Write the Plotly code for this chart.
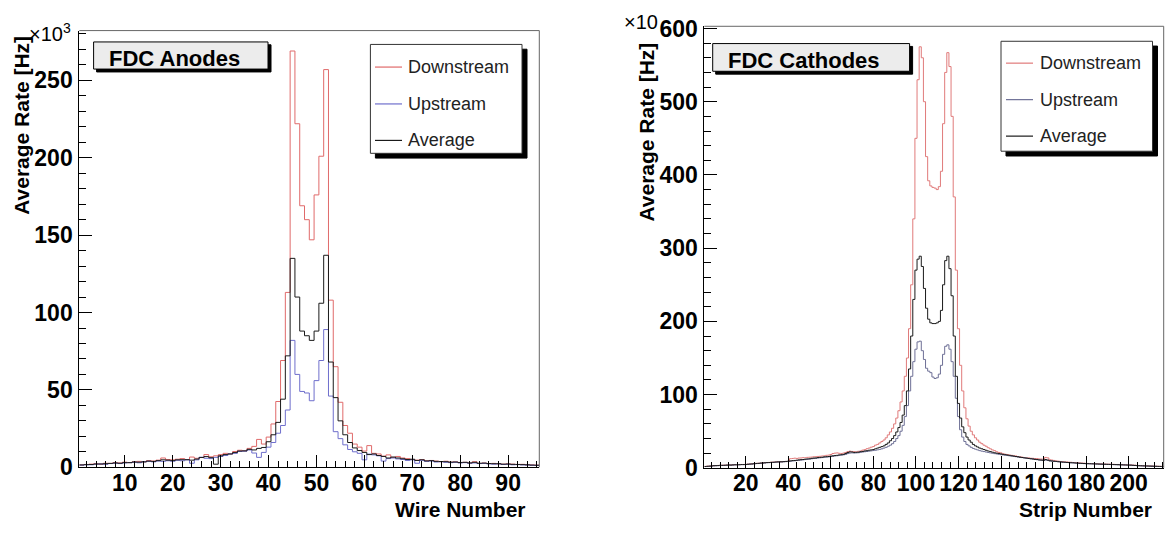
import plotly.graph_objects as go

W, H = 1166, 535

# ---------------- data: FDC anodes (wire 1..96), units of 1e3 Hz ----------------
wire_downstream = [1.5,1.8,2.0,2.3,2.0,2.6,2.5,3.0,2.8,3.3,
 3.0,3.6,3.8,3.5,4.3,4.0,4.6,6.0,5.0,4.8,
 5.2,5.6,5.0,6.6,5.8,6.3,8.2,6.8,7.4,8.2,
 9.0,8.6,10.2,11.0,10.6,12.2,13.5,18.0,15.0,19.5,
 28.0,42.5,69.0,113.0,269.0,222.0,169.0,160.0,147.0,176.0,
 201.0,257.0,108.0,65.0,42.0,27.0,22.0,15.0,13.0,10.5,
 14.0,9.0,8.6,7.2,8.0,6.4,7.0,6.0,5.6,5.0,
 4.6,5.0,4.2,4.4,4.0,3.6,3.9,3.3,3.5,3.0,
 3.2,2.8,3.6,2.5,2.7,2.4,2.5,2.2,2.0,2.2,
 2.0,1.8,1.9,1.6,1.5,1.4]
wire_upstream = [1.4,1.6,1.6,2.0,2.2,1.9,2.4,2.6,2.4,2.8,
 3.0,3.2,2.9,3.5,3.8,3.5,4.0,3.8,4.2,3.9,
 4.5,4.2,4.8,2.6,4.8,6.5,5.8,5.6,6.4,7.0,
 7.6,8.6,9.0,10.2,10.4,11.2,9.2,6.4,9.6,13.0,
 16.0,22.0,27.0,37.0,82.0,60.0,49.0,48.0,43.0,56.0,
 69.0,89.0,46.0,23.0,18.5,14.5,11.5,10.0,9.0,4.8,
 8.5,8.0,7.4,4.0,5.6,6.0,5.4,5.0,4.4,4.8,
 2.6,4.5,3.8,4.0,3.4,3.6,3.2,3.0,3.2,2.8,
 3.0,2.6,2.8,2.4,2.5,2.2,2.0,2.2,1.8,1.9,
 1.6,1.7,1.5,1.4,1.3,1.2]
wire_average = [1.5,1.7,1.8,2.1,2.1,2.3,2.5,2.8,2.6,3.0,
 3.0,3.4,3.3,3.5,4.0,3.8,4.3,4.8,4.6,4.3,
 4.8,4.9,4.9,4.6,5.3,6.3,6.9,6.2,2.0,7.4,
 8.2,8.6,9.5,10.5,10.6,11.6,11.2,12.2,12.8,16.5,
 21.0,29.0,44.0,72.0,135.0,110.0,88.0,85.0,82.0,88.0,
 106.0,137.0,68.0,45.0,30.0,21.0,16.0,12.5,10.8,9.6,
 8.2,8.6,7.6,7.0,6.0,6.6,6.0,5.5,5.0,5.2,
 4.4,4.8,4.1,4.3,3.8,3.7,3.6,3.3,3.4,3.1,
 3.2,2.8,3.2,2.6,2.7,2.4,2.3,2.3,2.0,2.1,
 1.9,1.8,1.7,1.6,1.4,1.3]

# ---------------- data: FDC cathodes (strip 1..216), units of 10 Hz ----------------
strip_downstream = [2.0,2.3,2.4,2.9,3.0,3.1,3.3,3.3,3.6,3.7,
 3.8,4.0,3.9,4.2,4.3,4.3,4.5,4.6,4.6,4.8,
 5.1,5.2,5.6,5.8,6.1,6.3,6.5,6.9,7.0,7.3,
 7.4,7.7,7.8,8.0,8.3,8.2,8.5,8.6,8.6,8.9,
 12.5,12.8,13.2,12.9,13.4,13.5,13.9,13.8,14.3,14.5,
 14.7,15.1,15.2,15.6,15.8,16.2,16.4,17.1,17.4,18.2,
 19.6,20.1,20.4,19.8,19.6,20.2,21.0,22.2,22.8,22.4,
 22.1,21.8,22.6,23.0,24.2,24.8,26.1,27.0,28.2,29.1,
 31,32,34,36,38,41,45,49,54,60,
 68,78,90,105,125,150,190,250,340,450,
 530,575,560,500,425,392,385,383,382,380,
 384,405,470,540,567,548,480,370,270,190,
 140,105,82,67,57,50,45,41,38,35,
 33,31,29.5,27.5,26,24.5,23.5,22,21,20.4,
 19.2,18.6,18.2,17.4,17.1,16.4,16.2,15.4,15.1,14.6,
 14.1,13.7,13.6,13.1,13.0,12.7,12.6,12.1,12.0,11.7,
 14.2,13.6,11.0,10.6,10.1,9.4,9.1,8.7,8.6,8.1,
 8.0,7.7,7.6,7.3,7.2,6.9,6.8,6.5,6.4,6.1,
 6.0,5.8,5.8,5.6,5.6,5.4,5.4,5.2,5.2,5.0,
 5.0,4.8,4.8,4.6,4.6,4.4,4.4,4.2,4.2,4.0,
 4.0,3.7,3.6,3.3,3.2,3.0,2.9,2.7,2.7,2.5,
 2.5,2.3,2.3,2.1,2.1,1.9]
strip_upstream = [1.7,2.0,2.2,2.5,2.8,2.9,3.0,3.3,3.3,3.4,
 3.6,3.8,3.7,3.9,4.1,4.1,4.2,4.4,4.4,4.5,
 4.8,5.0,5.2,5.5,5.8,6.0,6.3,6.4,6.7,7.0,
 7.1,7.3,7.5,7.7,7.9,8.0,8.1,8.3,8.5,8.7,
 9.0,9.4,9.6,10.0,10.3,10.6,10.9,11.3,11.6,11.9,
 12.4,12.7,13.0,13.4,13.7,14.0,14.4,14.6,15.0,15.4,
 15.8,16.2,16.5,17.0,17.3,17.8,18.4,19.5,20.2,20.4,
 20.2,20.4,20.6,21.2,21.6,22.0,22.3,22.8,23.2,23.6,
 24,24.6,25.2,26,27,28,29.5,31,33,36,
 40,44,50,58,70,85,105,125,145,162,
 172,173,160,148,136,132,130,124,122,123,
 128,140,155,166,168,162,145,125,95,70,
 52,42,36,32,30,28,26.5,25.5,24.5,23.5,
 22.8,22.2,21.6,21,20.4,19.9,19.4,19,18.5,18,
 17.6,17.2,16.8,16.4,16,15.6,15.2,14.8,14.4,14,
 13.6,13.2,12.8,12.4,12,11.6,11.2,10.8,10.5,10.2,
 10.6,10.2,9.5,9.2,8.9,8.6,8.3,8.0,7.7,7.5,
 7.3,7.1,6.9,6.7,6.5,6.3,6.1,6.0,5.8,5.7,
 5.6,5.5,5.4,5.3,5.2,5.1,5.0,4.9,4.8,4.7,
 4.6,4.5,4.4,4.3,4.2,4.1,4.0,3.9,3.8,3.7,
 3.6,3.4,3.2,3.0,2.8,2.7,2.6,2.5,2.4,2.3,
 2.2,2.1,2.0,1.9,1.8,1.7]
strip_average = [1.8,2.1,2.3,2.6,2.9,3.0,3.1,3.4,3.4,3.5,
 3.7,3.9,3.8,4.0,4.2,4.2,4.3,4.5,4.5,4.6,
 4.9,5.2,5.3,5.7,6.0,6.1,6.5,6.6,6.9,7.2,
 7.3,7.5,7.6,7.9,8.1,8.3,8.2,8.5,8.8,9.0,
 9.5,9.9,10.1,10.5,10.9,11.2,11.4,11.9,12.2,12.4,
 13.0,13.4,13.5,14.1,14.3,14.5,15.1,15.3,15.5,16.1,
 16.4,16.9,17.1,17.7,18.0,18.4,19.6,21.0,21.8,21.6,
 21.0,21.2,21.4,22.1,22.4,23.1,23.4,24.1,24.5,25.0,
 26,27,28,29,30,32,34,37,40,44,
 49,55,62,72,85,105,135,180,230,270,
 285,289,275,245,218,203,198,197,197,198,
 200,215,250,283,289,272,235,180,125,88,
 68,56,48,42,38,35,32,30,28.5,27,
 26,25,24,23,22.2,21.4,20.6,20,19.5,19,
 18.4,18,17.5,17.1,16.5,16.1,15.5,15.1,14.5,14.1,
 13.6,13.3,12.8,12.4,12.1,11.6,11.3,10.8,10.6,10.2,
 11.4,10.6,9.6,9.4,9.0,8.8,8.4,8.2,7.8,7.7,
 7.4,7.3,7.0,6.9,6.6,6.5,6.2,6.1,5.9,5.8,
 5.7,5.6,5.5,5.4,5.3,5.2,5.1,5.0,4.9,4.8,
 4.7,4.6,4.5,4.4,4.3,4.2,4.1,4.0,3.9,3.8,
 3.7,3.5,3.3,3.1,2.9,2.8,2.7,2.6,2.5,2.4,
 2.3,2.2,2.1,2.0,1.9,1.8]

series_names = ["Downstream", "Upstream", "Average"]
left_colors = ["#e06a6a", "#6f6fcc", "#1a1a1a"]
right_colors = ["#e07a7a", "#6e7096", "#1a1a1a"]

FONT = "Liberation Sans"

def bin_edges(n):
    return [i + 0.5 for i in range(n + 1)]

def step_vals(v):
    return list(v) + [v[-1]]

fig = go.Figure()
for name, vals, col in zip(series_names, [wire_downstream, wire_upstream, wire_average], left_colors):
    fig.add_trace(go.Scatter(x=bin_edges(len(vals)), y=step_vals(vals), mode="lines",
                             line=dict(shape="hv", color=col, width=1.0), name=name,
                             xaxis="x", yaxis="y", showlegend=False))
for name, vals, col in zip(series_names, [strip_downstream, strip_upstream, strip_average], right_colors):
    fig.add_trace(go.Scatter(x=bin_edges(len(vals)), y=step_vals(vals), mode="lines",
                             line=dict(shape="hv", color=col, width=1.0), name=name,
                             xaxis="x2", yaxis="y2", showlegend=False))

tickfont = dict(family=FONT, size=23, color="black", weight="bold")

def xax(domain, rng, dtick, mdtick, anchor):
    return dict(domain=domain, range=rng, anchor=anchor, showline=True, linecolor="black",
                linewidth=1, ticks="inside", ticklen=12, tickwidth=1, tickcolor="black",
                tick0=0, dtick=dtick, showgrid=False, zeroline=False, tickfont=tickfont,
                ticklabelstandoff=-5,
                minor=dict(ticks="inside", ticklen=6, dtick=mdtick, tick0=0,
                           tickcolor="black", tickwidth=1, showgrid=False))

def yax(domain, rng, dtick, mdtick, anchor):
    return dict(domain=domain, range=rng, anchor=anchor, showline=True, linecolor="black",
                linewidth=1, ticks="inside", ticklen=13, tickwidth=1, tickcolor="black",
                tick0=0, dtick=dtick, showgrid=False, zeroline=False, tickfont=tickfont,
                ticklabelstandoff=1,
                minor=dict(ticks="inside", ticklen=7, dtick=mdtick, tick0=0,
                           tickcolor="black", tickwidth=1, showgrid=False))

def px(x):
    return x / W

def py(y):
    return 1 - y / H

shapes = []
annotations = []

def rect(x0, y0, x1, y1, fill, line="black", lw=1):
    shapes.append(dict(type="rect", xref="paper", yref="paper", x0=px(x0), x1=px(x1),
                       y0=py(y1), y1=py(y0), fillcolor=fill,
                       line=dict(color=line, width=lw), layer="above"))

def text(x, y, s, size, bold=False, xanchor="left", yanchor="middle", angle=0, color="black"):
    annotations.append(dict(x=px(x), y=py(y), xref="paper", yref="paper", text=s,
                            showarrow=False, xanchor=xanchor, yanchor=yanchor, textangle=angle,
                            font=dict(family=FONT, size=size, color=color,
                                      weight="bold" if bold else "normal")))

# frame top/right (grey)
for xr, yr in [("x", "y"), ("x2", "y2")]:
    shapes.append(dict(type="line", xref=xr + " domain", yref=yr + " domain", x0=0, x1=1, y0=1, y1=1,
                       line=dict(color="#666", width=1)))
    shapes.append(dict(type="line", xref=xr + " domain", yref=yr + " domain", x0=1, x1=1, y0=0, y1=1,
                       line=dict(color="#666", width=1)))

# title boxes with shadow
rect(96.6, 35.4, 271.0, 63.8, "black", "black")
rect(93.6, 32.4, 268.0, 60.8, "#ececec", "black")
text(107, 50, "FDC Anodes", 22, bold=True)
rect(715.7, 37.1, 912.6, 66.1, "black", "black")
rect(712.7, 34.1, 909.6, 63.1, "#ececec", "black")
text(725.7, 52, "FDC Cathodes", 22, bold=True)

# legends with shadow
def legend(x0, y0, x1, y1, line_x0, line_x1, text_x, ys, colors):
    rect(x0 + 5, y0 + 5, x1 + 5, y1 + 5, "black", "black")
    rect(x0, y0, x1, y1, "white", "#333")
    for yy, nm, col in zip(ys, series_names, colors):
        shapes.append(dict(type="line", xref="paper", yref="paper", x0=px(line_x0), x1=px(line_x1),
                           y0=py(yy), y1=py(yy), line=dict(color=col, width=1.2), layer="above"))
        text(text_x, yy, nm, 18, color="#222")

legend(370.4, 35, 522, 149, 375, 402, 406, [58.7, 97.3, 135.5], left_colors)
legend(1001, 31.7, 1152.5, 146.8, 1006, 1033, 1038, [54.6, 92.8, 131.0], right_colors)

# axis titles
text(21.4, 24, "Average Rate [Hz]", 21, bold=True, xanchor="center", yanchor="top", angle=-90)
text(646.5, 31, "Average Rate [Hz]", 21, bold=True, xanchor="center", yanchor="top", angle=-90)
text(528, 522, "Wire Number", 21, bold=True, xanchor="right")
text(1153.6, 522, "Strip Number", 21, bold=True, xanchor="right")
text(73, 22, "×10<sup>3</sup>", 20, xanchor="right")
text(660, -2, "×10", 20, xanchor="right", yanchor="top")

fig.update_layout(
    width=W, height=H, autosize=False,
    margin=dict(l=0, r=0, t=0, b=0),
    paper_bgcolor="white", plot_bgcolor="white",
    xaxis=xax([px(79.3), px(539.3)], [0.5, 96.5], 10, 2, "y"),
    yaxis=yax([py(477.7), py(20.5)], [0, 282.2], 50, 10, "x"),
    xaxis2=xax([px(704.4), px(1163.7)], [0.5, 216.5], 20, 4, "y2"),
    yaxis2=yax([py(478.3), py(16.0)], [0, 603], 100, 20, "x2"),
    shapes=shapes, annotations=annotations,
    showlegend=False,
)

fig.write_html("out.html", config={"displayModeBar": False, "staticPlot": True},
               post_script="document.body.style.margin='0px';document.body.style.overflow='hidden';")
